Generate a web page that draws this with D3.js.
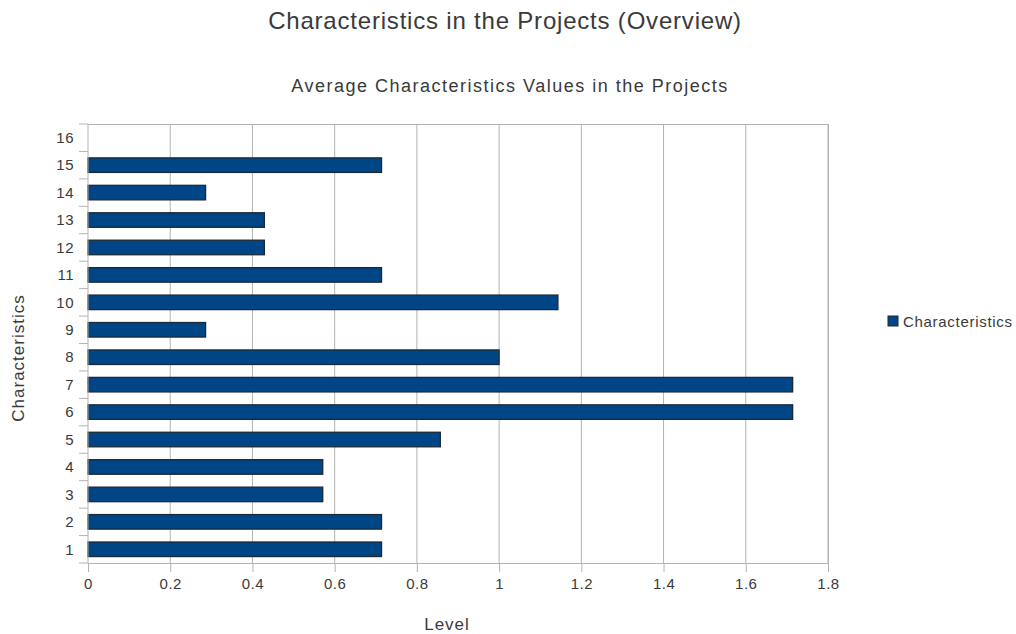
<!DOCTYPE html>
<html>
<head>
<meta charset="utf-8">
<script src="https://cdn.jsdelivr.net/npm/d3@7"></script>
<style>
  body { margin: 0; background: #fff; }
  text { font-family: "Liberation Sans", Arial, sans-serif; fill: #3a3a3a; }
</style>
</head>
<body>
<svg id="chart" width="1016" height="634"></svg>
<script>
// data
var categories = ["1","2","3","4","5","6","7","8","9","10","11","12","13","14","15","16"];
var values = [0.714, 0.714, 0.571, 0.571, 0.857, 1.714, 1.714, 1.0, 0.286, 1.143, 0.714, 0.429, 0.429, 0.286, 0.714, null];
var xTicks = [0, 0.2, 0.4, 0.6, 0.8, 1, 1.2, 1.4, 1.6, 1.8];
var seriesName = "Characteristics";

var svg = d3.select("#chart");
var pLeft = 88, pRight = 828, pTop = 124, pBottom = 563;

var x = d3.scaleLinear().domain([0, 1.8]).range([pLeft, pRight]);
var y = d3.scaleBand().domain(categories.slice().reverse()).range([pTop, pBottom]).paddingInner(0.47).paddingOuter(0.235);
var yb = d3.scaleBand().domain(categories.slice().reverse()).range([pTop, pBottom]);

// titles
svg.append("text").attr("x", 505).attr("y", 29).attr("text-anchor", "middle")
  .style("font-size", "24px").style("letter-spacing", "0.8px").text("Characteristics in the Projects (Overview)");
svg.append("text").attr("x", 510).attr("y", 92).attr("text-anchor", "middle")
  .style("font-size", "18px").style("letter-spacing", "1.5px").text("Average Characteristics Values in the Projects");

// grid
svg.append("g").selectAll("line").data(xTicks.slice(1)).enter().append("line")
  .attr("x1", d => x(d)).attr("x2", d => x(d)).attr("y1", pTop).attr("y2", pBottom)
  .attr("stroke", "#b3b3b3").attr("stroke-width", 1);
svg.append("line").attr("x1", pLeft).attr("x2", pRight).attr("y1", pTop + 0.5).attr("y2", pTop + 0.5)
  .attr("stroke", "#b3b3b3");

// bars
svg.append("g").selectAll("rect").data(categories.map((c, i) => ({c: c, v: values[i]})).filter(d => d.v != null))
  .enter().append("rect")
  .attr("x", x(0)).attr("y", d => y(d.c))
  .attr("width", d => x(d.v) - x(0)).attr("height", y.bandwidth())
  .attr("fill", "#004586").attr("stroke", "#1c2a36").attr("stroke-width", 1.3);

// axes
var xAxis = d3.axisBottom(x).tickValues(xTicks).tickSize(9).tickPadding(6).tickFormat(d => String(d));
var gx = svg.append("g").attr("transform", "translate(0," + pBottom + ")").call(xAxis);
gx.select(".domain").attr("stroke", "#b3b3b3");
gx.selectAll(".tick line").attr("stroke", "#b3b3b3");
gx.selectAll("text").style("font-size", "15px").style("letter-spacing", "0.5px")
  .style("font-family", "Liberation Sans, Arial, sans-serif").style("fill", "#3a3a3a");

// y axis, ticks at band boundaries
var gy = svg.append("g");
gy.append("line").attr("x1", pLeft).attr("x2", pLeft).attr("y1", pTop).attr("y2", pBottom).attr("stroke", "#b3b3b3");
var bounds = categories.map(c => yb(c)).concat([pBottom]);
gy.selectAll(".yt").data(bounds).enter().append("line")
  .attr("x1", pLeft - 9).attr("x2", pLeft).attr("y1", d => d).attr("y2", d => d).attr("stroke", "#b3b3b3");
gy.selectAll(".yl").data(categories).enter().append("text")
  .attr("x", pLeft - 14).attr("y", d => yb(d) + yb.bandwidth() / 2).attr("dy", "0.35em")
  .attr("text-anchor", "end").style("font-size", "15px").style("letter-spacing", "0.5px").text(d => d);
svg.append("line").attr("x1", pRight + 0.5).attr("x2", pRight + 0.5).attr("y1", pTop).attr("y2", pBottom + 9).attr("stroke", "#b3b3b3");

// axis titles
svg.append("text").attr("x", 447).attr("y", 630).attr("text-anchor", "middle")
  .style("font-size", "17px").style("letter-spacing", "1px").text("Level");
svg.append("text").attr("transform", "translate(24,358) rotate(-90)").attr("text-anchor", "middle")
  .style("font-size", "17px").style("letter-spacing", "1px").text("Characteristics");

// legend
svg.append("rect").attr("x", 888).attr("y", 316).attr("width", 10).attr("height", 10)
  .attr("fill", "#004586").attr("stroke", "#1c2a36");
svg.append("text").attr("x", 903).attr("y", 327).style("font-size", "15px").style("letter-spacing", "0.7px").text(seriesName);
</script>
</body>
</html>
